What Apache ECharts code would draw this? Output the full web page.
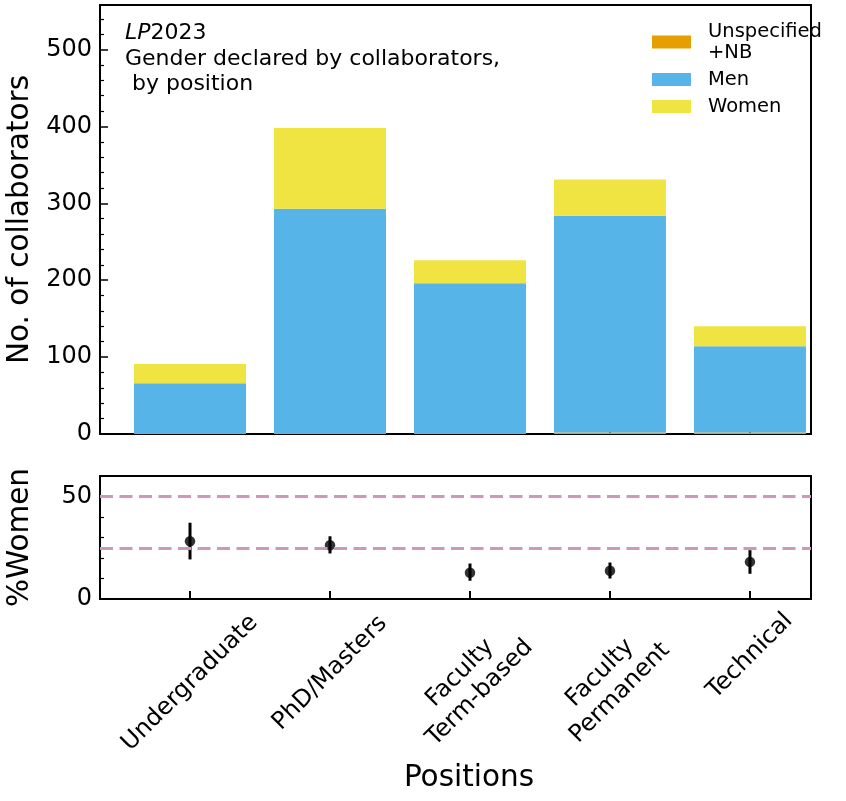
<!DOCTYPE html>
<html>
<head>
<meta charset="utf-8">
<script src="https://cdn.jsdelivr.net/npm/echarts@6/dist/echarts.min.js"></script>
<style>html,body{margin:0;padding:0;background:#fff}#c{width:846px;height:801px}</style>
</head>
<body>
<div id="c"></div>
<script>
// ---- data ----
const categories = ['Undergraduate', 'PhD/Masters', 'Faculty\nTerm-based', 'Faculty\nPermanent', 'Technical'];
const unspecified = [0, 0, 0, 2, 2];
const men = [66, 293, 196, 282, 112];
const women = [25, 105, 30, 47, 26];
const pctWomen = [28.2, 26.2, 12.8, 13.8, 18.1];
const errLow = [19.3, 22.2, 8.9, 10.0, 12.3];
const errHigh = [37.2, 30.6, 17.3, 17.8, 23.8];
const refLines = [50, 25];
const topTicks = [0, 100, 200, 300, 400, 500];
const bottomTicks = [0, 50];
const seriesNames = ['Unspecified\n+NB', 'Men', 'Women'];
const colors = ['#E69F00', '#56B4E9', '#F0E442'];

// ---- layout helpers ----
const FONT = 'DejaVu Sans';
const XMIN = -0.643, XMAX = 4.436;
const TOPMAX = 558, BOTMAX = 60;
const BAR_W = 0.8;
const labelMargins = [84, 74, 84, 84, 57];
const idx = categories.map((c, i) => i);
const topMinor = [];
for (let v = 20; v < TOPMAX; v += 20) if (v % 100 !== 0) topMinor.push(v);
const botMinor = [];
for (let v = 10; v < BOTMAX; v += 10) if (v % 50 !== 0) botMinor.push(v);

const black = '#000';
function baseX(grid, showLine) {
  return {
    gridIndex: grid, type: 'value', min: XMIN, max: XMAX,
    axisLine: { show: showLine, onZero: false, lineStyle: { color: black, width: 2 } },
    axisTick: { show: showLine, customValues: idx, inside: true, length: 8, lineStyle: { color: black, width: 2 } },
    axisLabel: { show: false },
    splitLine: { show: false }, minorTick: { show: false }
  };
}
const xAxes = [baseX(0, true), baseX(1, true)];
idx.forEach(k => {
  const a = baseX(1, false);
  a.position = 'bottom';
  a.axisLine = { show: false, onZero: false };
  a.axisTick = { show: false };
  a.axisLabel = {
    show: true, customValues: [k], rotate: 45, margin: labelMargins[k],
    align: 'center', verticalAlign: 'middle',
    formatter: v => categories[Math.round(v)],
    fontFamily: FONT, fontSize: 24, lineHeight: 28, color: black,
    showMinLabel: true, showMaxLabel: true, hideOverlap: false
  };
  xAxes.push(a);
});

function yMajor(grid, max, ticks, name, gap) {
  return {
    gridIndex: grid, type: 'value', min: 0, max: max, position: 'left',
    axisLine: { show: true, onZero: false, lineStyle: { color: black, width: 2 } },
    axisTick: { show: true, customValues: ticks, inside: true, length: 8, lineStyle: { color: black, width: 1.5 } },
    axisLabel: { show: true, customValues: ticks, margin: 8, fontFamily: FONT, fontSize: 24, color: black },
    splitLine: { show: false }, minorTick: { show: false },
    name: name, nameLocation: 'middle', nameGap: gap,
    nameTextStyle: { fontFamily: FONT, fontSize: 29.5, color: black }
  };
}
function yMinor(grid, max, ticks) {
  return {
    gridIndex: grid, type: 'value', min: 0, max: max, position: 'left',
    axisLine: { show: false, onZero: false },
    axisTick: { show: true, customValues: ticks, inside: true, length: 4, lineStyle: { color: black, width: 1.2 } },
    axisLabel: { show: false }, splitLine: { show: false }
  };
}

// stacked bars drawn as rectangles through the axes' scales
const barData = [unspecified, men, women];
const barSeries = seriesNames.map((n, s) => ({
  name: n, type: 'custom', xAxisIndex: 0, yAxisIndex: 0,
  itemStyle: { color: colors[s] },
  encode: { x: 0, y: [1, 2] },
  data: idx.map(i => {
    let base = 0;
    for (let k = 0; k < s; k++) base += barData[k][i];
    return [i, base, base + barData[s][i]];
  }),
  renderItem: (params, api) => {
    const x = api.value(0);
    const p0 = api.coord([x - BAR_W / 2, api.value(1)]);
    const p1 = api.coord([x + BAR_W / 2, api.value(2)]);
    return {
      type: 'rect',
      shape: { x: p0[0], y: p1[1], width: p1[0] - p0[0], height: p0[1] - p1[1] },
      style: { fill: colors[s] }
    };
  }
}));

const option = {
  animation: false,
  backgroundColor: '#fff',
  grid: [
    { left: 100, right: 35, top: 5, height: 429, show: true, borderColor: black, borderWidth: 2, backgroundColor: 'transparent', outerBoundsMode: 'none', containLabel: false },
    { left: 100, right: 35, top: 476, height: 123, show: true, borderColor: black, borderWidth: 2, backgroundColor: 'transparent', outerBoundsMode: 'none', containLabel: false }
  ],
  title: {
    left: 125, top: 21, padding: 0,
    text: '{i|LP}{n|2023}\n{n|Gender declared by collaborators,}\n{n| by position}',
    textStyle: {
      fontFamily: FONT, fontSize: 22, fontWeight: 'normal', color: black, lineHeight: 25.5,
      rich: {
        i: { fontFamily: FONT, fontSize: 22, fontStyle: 'italic', color: black, lineHeight: 25.5 },
        n: { fontFamily: FONT, fontSize: 22, color: black, lineHeight: 25.5 }
      }
    }
  },
  legend: {
    orient: 'vertical', left: 652, top: 21, padding: 0,
    itemWidth: 39, itemHeight: 13, itemGap: 6,
    icon: 'rect',
    data: seriesNames.map((n, s) => ({ name: n, itemStyle: { color: colors[s] } })),
    textStyle: { fontFamily: FONT, fontSize: 19.5, lineHeight: 21, color: black, padding: [0, 0, 0, 12] }
  },
  graphic: [{
    type: 'text', x: 469, y: 778,
    style: { text: 'Positions', x: 0, y: 0, align: 'center', verticalAlign: 'middle', font: '29.5px "DejaVu Sans"', fill: black }
  }],
  xAxis: xAxes,
  yAxis: [
    yMajor(0, TOPMAX, topTicks, 'No. of collaborators', 65),
    yMinor(0, TOPMAX, topMinor),
    yMajor(1, BOTMAX, bottomTicks, '%Women', 65),
    yMinor(1, BOTMAX, botMinor)
  ],
  series: barSeries.concat([
    {
      type: 'custom', xAxisIndex: 1, yAxisIndex: 2, z: 3,
      data: idx.map(i => [i, errLow[i], errHigh[i]]),
      encode: { x: 0, y: [1, 2] },
      renderItem: (params, api) => {
        const p1 = api.coord([api.value(0), api.value(1)]);
        const p2 = api.coord([api.value(0), api.value(2)]);
        return { type: 'line', shape: { x1: p1[0], y1: p1[1], x2: p2[0], y2: p2[1] }, style: { stroke: black, lineWidth: 3 } };
      },
      silent: true
    },
    {
      type: 'scatter', xAxisIndex: 1, yAxisIndex: 2, z: 4,
      symbol: 'circle', symbolSize: 10.5,
      itemStyle: { color: black },
      data: idx.map(i => [i, pctWomen[i]]),
      markLine: {
        silent: true, symbol: 'none', label: { show: false },
        lineStyle: { color: '#CC99BB', width: 3, type: [13, 6.5] },
        data: refLines.map(v => ({ yAxis: v }))
      }
    }
  ])
};

const chart = echarts.init(document.getElementById('c'), null, { renderer: 'canvas' });
chart.setOption(option);
</script>
</body>
</html>
